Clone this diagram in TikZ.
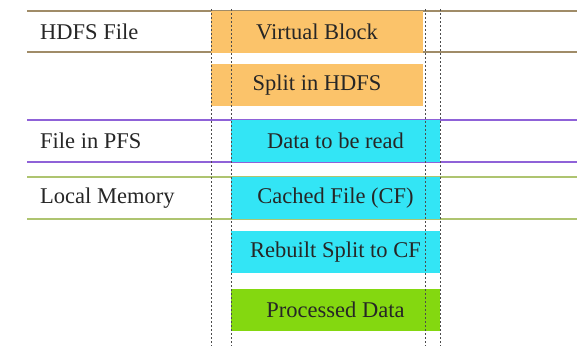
\documentclass[tikz,border=0pt]{standalone}
\usepackage{fontspec}
\setmainfont{Liberation Serif}
\definecolor{boxorange}{HTML}{FBC36A}
\definecolor{boxcyan}{HTML}{33E5F5}
\definecolor{boxgreen}{HTML}{84D810}
\definecolor{lnbrown}{HTML}{A08C68}
\definecolor{lnpurple}{HTML}{8F62D8}
\definecolor{lnolive}{HTML}{AEC470}
\definecolor{txt}{HTML}{262626}
\begin{document}
\begin{tikzpicture}[x=1pt,y=-1pt,
  lbl/.style={anchor=west,inner sep=0pt,text=txt,font=\fontsize{22.5}{26}\selectfont},
  blk/.style={minimum height=42pt,inner sep=0pt,text=txt,font=\fontsize{22.5}{26}\selectfont},
  hrule/.style={line width=1.8pt},
  vdash/.style={line width=0.7pt,draw=black!70,dash pattern=on 1.5pt off 2.5pt}]
\useasboundingbox (0,0) rectangle (580,346);
% layer rules
\draw[hrule,lnbrown] (27,11) -- (577,11);
\draw[hrule,lnbrown] (27,52) -- (577,52);
\draw[hrule,lnpurple] (27,120) -- (577,120);
\draw[hrule,lnpurple] (27,162) -- (577,162);
\draw[hrule,lnolive] (27,177) -- (577,177);
\draw[hrule,lnolive] (27,219) -- (577,219);
% blocks
\node[blk,fill=boxorange,minimum width=212pt] (vb) at (317,31.5) {Virtual Block};
\node[blk,fill=boxorange,minimum width=212pt] (sp) at (317,85) {Split in HDFS};
\node[blk,fill=boxcyan,minimum width=209pt] (dr) at (335.5,141) {Data to be read};
\node[blk,fill=boxcyan,minimum width=209pt] (cf) at (335.5,198) {Cached File (CF)};
\node[blk,fill=boxcyan,minimum width=209pt] (rb) at (335.5,252) {Rebuilt Split to CF};
\node[blk,fill=boxgreen,minimum width=209pt] (pd) at (335.5,309.5) {Processed Data};
% layer labels
\node[lbl] (l1) at (40,32) {HDFS File};
\node[lbl] (l2) at (40,141) {File in PFS};
\node[lbl] (l3) at (40,198) {Local Memory};
% guide lines
\foreach \gx in {211,231,425,440}
  \draw[vdash] (\gx,9) -- (\gx,346);
\end{tikzpicture}
\end{document}
